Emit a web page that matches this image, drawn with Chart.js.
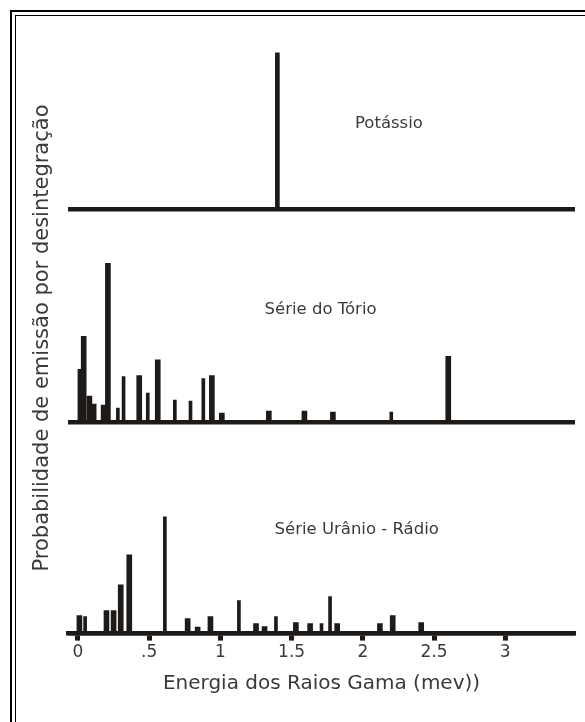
<!DOCTYPE html>
<html>
<head>
<meta charset="utf-8">
<script src="https://cdn.jsdelivr.net/npm/chart.js@4/dist/chart.umd.min.js"></script>
<style>
  body { margin: 0; background: #fff; }
  canvas { display: block; }
</style>
</head>
<body>
<canvas id="grafico" width="585" height="722"></canvas>
<script>
// energias em MeV e intensidades relativas (unidades arbitrarias)
const potassioE = [1.40];
const potassioP = [157];

const torioLargasE = [0.04, 0.08, 0.11, 0.18, 0.21, 0.43, 0.56, 0.94, 1.01, 1.34, 1.59, 1.79, 2.60];
const torioLargasP = [86.5, 26.5, 18.5, 17.5, 159.5, 47, 63, 47, 9.5, 11.5, 11.5, 10.5, 66.5];
const torioFinasE = [0.01, 0.28, 0.32, 0.49, 0.68, 0.79, 0.88, 2.20];
const torioFinasP = [53.5, 14.5, 46, 29.5, 22.5, 21.5, 44, 10.5];

const uranioLargasE = [0.01, 0.20, 0.25, 0.30, 0.36, 0.77, 0.84, 0.93, 1.25, 1.31, 1.53, 1.63, 1.82, 2.12, 2.21, 2.41];
const uranioLargasP = [18, 23, 23, 49, 79, 15, 6.5, 17, 10, 7, 11, 10, 10, 10, 18, 11];
const uranioFinasE = [0.05, 0.61, 1.13, 1.39, 1.71, 1.77];
const uranioFinasP = [17, 117, 33, 17, 10, 37];

const tickValores = [0, 0.5, 1, 1.5, 2, 2.5, 3];
const tickRotulos = ['0', '.5', '1', '1.5', '2', '2.5', '3'];

const nomesPaineis = ['Potássio', 'Série do Tório', 'Série Urânio - Rádio'];

const tinta = '#1e1a17';
const cinzaTexto = '#3a3a3a';
const fonte = "'DejaVu Sans', sans-serif";

const pontos = (es, ps) => es.map((e, i) => ({ x: e, y: ps[i] }));

function serie(es, ps, eixo, largura) {
  return {
    data: pontos(es, ps),
    yAxisID: eixo,
    backgroundColor: tinta,
    barThickness: largura,
    grouped: false
  };
}

// escala y de cada painel: so a linha do zero aparece (linha de base grossa)
function eixoPainel(maximo) {
  return {
    type: 'linear',
    position: 'left',
    stack: 'paineis',
    stackWeight: maximo,
    min: 0,
    max: maximo,
    afterBuildTicks: s => { s.ticks = [{ value: 0 }]; },
    ticks: { display: false },
    border: { display: false },
    grid: {
      drawTicks: false,
      lineWidth: 4.5,
      color: c => (c.tick && c.tick.value === 0) ? tinta : 'rgba(0,0,0,0)'
    }
  };
}

const decoracao = {
  id: 'decoracao',
  beforeDraw(chart) {
    const ctx = chart.ctx;
    ctx.save();
    ctx.fillStyle = '#000';
    // moldura dupla (esquerda e topo)
    ctx.fillRect(10, 10, 2, chart.height - 10);
    ctx.fillRect(10, 10, chart.width - 10, 2);
    ctx.fillRect(15, 15, 1, chart.height - 15);
    ctx.fillRect(15, 15, chart.width - 15, 1);
    ctx.restore();
  },
  afterDraw(chart) {
    const ctx = chart.ctx;
    const x = chart.scales.x;
    ctx.save();
    ctx.fillStyle = cinzaTexto;

    // titulo do eixo y
    ctx.font = '21px ' + fonte;
    ctx.textAlign = 'center';
    ctx.textBaseline = 'middle';
    ctx.translate(43, 338);
    ctx.rotate(-Math.PI / 2);
    ctx.fillText('Probabilidade de emissão por desintegração', 0, 0);
    ctx.setTransform(1, 0, 0, 1, 0, 0);

    // nomes dos paineis
    ctx.font = '16.5px ' + fonte;
    ctx.textAlign = 'left';
    const lugares = [
      { e: 1.945, v: 86, eixo: 'yK' },
      { e: 1.31, v: 113, eixo: 'yTh' },
      { e: 1.38, v: 104, eixo: 'yU' }
    ];
    lugares.forEach((l, i) => {
      const s = chart.scales[l.eixo];
      ctx.fillText(nomesPaineis[i], x.getPixelForValue(l.e), s.getPixelForValue(l.v));
    });
    ctx.restore();
  }
};

new Chart(document.getElementById('grafico'), {
  type: 'bar',
  data: {
    datasets: [
      serie(potassioE, potassioP, 'yK', 4),
      serie(torioLargasE, torioLargasP, 'yTh', 5),
      serie(torioFinasE, torioFinasP, 'yTh', 3),
      serie(uranioLargasE, uranioLargasP, 'yU', 5),
      serie(uranioFinasE, uranioFinasP, 'yU', 3)
    ]
  },
  options: {
    responsive: false,
    animation: false,
    layout: { padding: { left: 68, right: 10, top: 26, bottom: 22 } },
    plugins: {
      legend: { display: false },
      tooltip: { enabled: false }
    },
    scales: {
      x: {
        type: 'linear',
        offset: false,
        min: -0.0702,
        max: 3.49,
        afterBuildTicks: s => { s.ticks = tickValores.map(v => ({ value: v })); },
        ticks: {
          callback: (v, i) => tickRotulos[i],
          color: cinzaTexto,
          font: { family: fonte, size: 17 },
          padding: 2,
          maxRotation: 0,
          autoSkip: false
        },
        border: { display: true, color: tinta, width: 4.5 },
        grid: {
          offset: false,
          drawOnChartArea: false,
          drawTicks: true,
          tickLength: 7,
          tickWidth: 5,
          tickColor: tinta
        },
        title: {
          display: true,
          text: 'Energia dos Raios Gama (mev))',
          color: cinzaTexto,
          font: { family: fonte, size: 20 },
          padding: { top: 7, bottom: 4 }
        }
      },
      // ordem inversa: o ultimo eixo da pilha fica no topo
      yU: eixoPainel(211.5),
      yTh: eixoPainel(213.5),
      yK: eixoPainel(184)
    }
  },
  plugins: [decoracao]
});
</script>
</body>
</html>
